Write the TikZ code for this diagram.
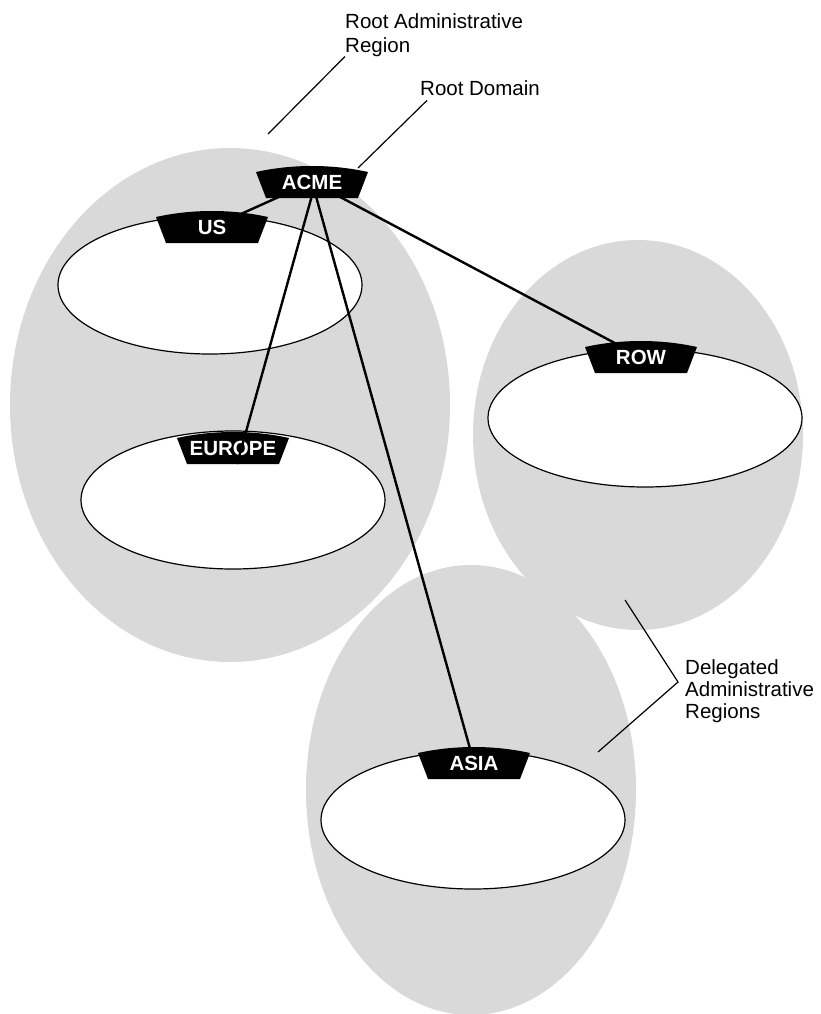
\documentclass[tikz,border=0pt]{standalone}
\usepackage{fontspec}
\setmainfont{Liberation Sans}
\usetikzlibrary{shapes.geometric}
\definecolor{regiongray}{RGB}{217,217,217}
\pgfdeclarelayer{background}
\pgfsetlayers{background,main}
% black tab with a bowed top, behind a domain name
\newcommand{\tagshape}[1]{\fill[shift={(#1)}] (-56,-10) .. controls (-20,-18) and (20,-18) .. (56,-10) -- (46,16) -- (-46,16) -- cycle;}

\begin{document}
\begin{tikzpicture}[x=1pt,y=-1pt,
    region/.style={ellipse,fill=regiongray,inner sep=0pt},
    dombox/.style={ellipse,draw,fill=white,line width=1.2pt,inner sep=0pt,minimum width=304pt,minimum height=138pt},
    tag/.style={text=white,font=\fontsize{20.5}{22}\selectfont\bfseries,inner sep=0pt},
    link/.style={line width=2.4pt},
    leader/.style={line width=1.2pt},
    note/.style={align=left,anchor=north west,inner sep=0pt,font=\fontsize{20.5}{24}\selectfont}]
    \useasboundingbox (0,0) rectangle (821,1014);
    \node[tag] (acme) at (312,182) {ACME};
    \node[tag] (us) at (212,227) {US};
    \node[tag] (europe) at (233,448) {EUROPE};
    \node[tag] (row) at (641,357) {ROW};
    \node[tag] (asia) at (474,763) {ASIA};
    \begin{pgfonlayer}{background}
      \node[region,minimum width=440pt,minimum height=514pt] (rootreg) at (230,405) {};
      \node[region,minimum width=330pt,minimum height=390pt] (rowreg) at (638,435) {};
      \node[region,minimum width=330pt,minimum height=450pt] (asiareg) at (471,790) {};
      \node[dombox] (usdom) at (210,285) {};
      \node[dombox] (eudom) at (233,500) {};
      \node[dombox,minimum width=314pt] (rowdom) at (645,418) {};
      \node[dombox] (asiadom) at (473,820) {};
      \path[link] (acme.center) edge (us.center)
                                edge (row.center)
                                edge (asia.center);
      \foreach \t in {acme,us,europe,row,asia} {\tagshape{\t}}
    \end{pgfonlayer}
    \coordinate (eufoot) at (237,464);
    \draw[link] ([yshift=-6pt]acme.south) -- (eufoot);
    % callouts
    \node[note] (rootlbl) at (345,13) {Root Administrative\\Region};
    \node[note] (domlbl) at (420,80) {Root Domain};
    \node[note,font=\fontsize{20.5}{22}\selectfont] (dellbl) at (685,659) {Delegated\\Administrative\\Regions};
    \coordinate (rootpt) at (268,134);
    \coordinate (domainpt) at (358,168);
    \coordinate (rowpt) at (625,600);
    \coordinate (asiapt) at (598,752);
    \coordinate (delvertex) at (678,682);
    \draw[leader] (rootlbl.south west) -- (rootpt);
    \draw[leader] ([xshift=7pt,yshift=-5pt]domlbl.south west) -- (domainpt);
    \draw[leader] (rowpt) -- (delvertex) -- (asiapt);
\end{tikzpicture}
\end{document}
